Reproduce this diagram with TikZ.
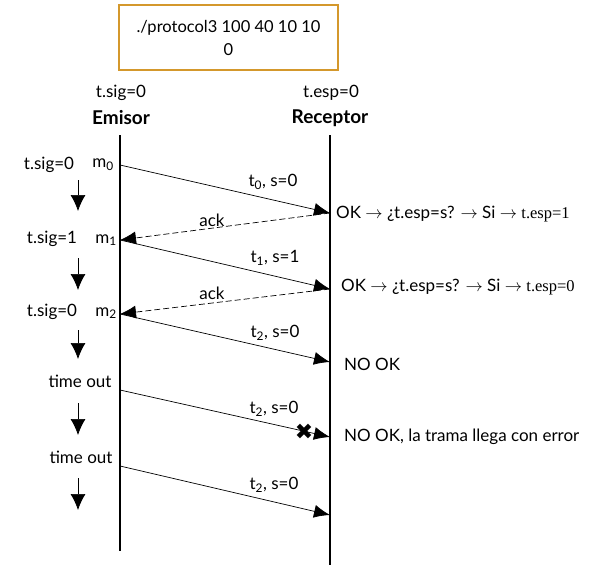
\documentclass[tikz,border=0pt]{standalone}
\usepackage{fontspec}
\setmainfont{Lato}
\newfontfamily\timesfont{Liberation Serif}
\newfontfamily\symbolfont{DejaVu Sans}
\usetikzlibrary{arrows.meta}
\definecolor{boxgold}{RGB}{212,152,44}

\begin{document}
\begin{tikzpicture}[x=1pt, y=-1pt,
    every node/.style={font=\fontsize{17}{19}\selectfont, inner sep=0pt},
    lifeline/.style={line width=1.4pt},
    msg/.style={-{Latex[length=16pt, width=13pt]}, line width=0.7pt},
    ackmsg/.style={msg, dash pattern=on 6pt off 3pt},
    down/.style={-{Latex[length=16pt, width=15pt]}, line width=0.7pt}]
    \useasboundingbox (0,0) rectangle (595,573);

    % Command box
    \node[draw=boxgold, line width=1.2pt, minimum width=219pt, minimum height=65pt,
          align=center, font=\fontsize{16.5}{23}\selectfont] (cmd) at (228.5,37.5)
          {./protocol3 100 40 10 10\\0};

    % Headers
    \node (sig0) at (121,93) {t.sig=0};
    \node (esp0) at (331,93) {t.esp=0};
    \node[font=\fontsize{19}{21}\selectfont\bfseries] (emisor) at (121,118) {Emisor};
    \node[font=\fontsize{19}{21}\selectfont\bfseries] (receptor) at (330,118) {Receptor};

    % Lifelines
    \coordinate (etop) at (120,135);
    \coordinate (ebot) at (120,551);
    \coordinate (rtop) at (330,135);
    \coordinate (rbot) at (330,565);
    \draw[lifeline] (etop) -- (ebot);
    \draw[lifeline] (rtop) -- (rbot);

    % Points on the lifelines
    \coordinate (e0) at (120,165);
    \coordinate (r0) at (330,213);
    \coordinate (e1) at (120,240);
    \coordinate (r1) at (330,289);
    \coordinate (e2) at (120,314);
    \coordinate (r2) at (330,362);
    \coordinate (e3) at (120,390);
    \coordinate (r3) at (330,437);
    \coordinate (e4) at (120,466);
    \coordinate (r4) at (330,515);

    % Frames and acks
    \draw[msg] (e0) -- (r0);
    \draw[ackmsg] (r0) -- (e1);
    \draw[msg] (e1) -- (r1);
    \draw[ackmsg] (r1) -- (e2);
    \draw[msg] (e2) -- (r2);
    \draw[msg] (e3) -- (r3);
    \draw[msg] (e4) -- (r4);
    \node[font=\symbolfont\fontsize{22}{22}\selectfont] (err) at (304,432) {✖};

    % Frame labels
    \node (lt0) at (273,182) {t\textsubscript{0}, s=0};
    \node (lack1) at (212,220) {ack};
    \node (lt1) at (275,258) {t\textsubscript{1}, s=1};
    \node (lack2) at (212,293) {ack};
    \node (lt2) at (275,333) {t\textsubscript{2}, s=0};
    \node (lt3) at (274,409) {t\textsubscript{2}, s=0};
    \node (lt4) at (274,485) {t\textsubscript{2}, s=0};

    % Emisor state
    \node (sig1) at (49,165) {t.sig=0};
    \node (m0) at (103,165) {m\textsubscript{0}};
    \node (sig2) at (52,239) {t.sig=1};
    \node (m1) at (106,240) {m\textsubscript{1}};
    \node (sig3) at (52,312) {t.sig=0};
    \node (m2) at (106,313) {m\textsubscript{2}};
    \node (tout1) at (80,381) {time out};
    \node (tout2) at (81,457) {time out};

    % Time arrows
    \coordinate (d1a) at (78,180); \coordinate (d1b) at (78,211);
    \coordinate (d2a) at (78,258); \coordinate (d2b) at (78,290);
    \coordinate (d3a) at (78,330); \coordinate (d3b) at (78,359);
    \coordinate (d4a) at (78,403); \coordinate (d4b) at (78,435);
    \coordinate (d5a) at (78,478); \coordinate (d5b) at (78,510);
    \draw[down] (d1a) -- (d1b);
    \draw[down] (d2a) -- (d2b);
    \draw[down] (d3a) -- (d3b);
    \draw[down] (d4a) -- (d4b);
    \draw[down] (d5a) -- (d5b);

    % Receptor results
    \node[anchor=west] (ok1) at (336,214)
        {OK $\rightarrow$ ¿t.esp=s? $\rightarrow$ Si $\rightarrow$ {\timesfont\fontsize{16.5}{18}\selectfont t.esp=1}};
    \node[anchor=west] (ok2) at (341,287)
        {OK $\rightarrow$ ¿t.esp=s? $\rightarrow$ Si $\rightarrow$ {\timesfont\fontsize{16.5}{18}\selectfont t.esp=0}};
    \node[anchor=west] (nok1) at (344,364) {NO OK};
    \node[anchor=west] (nok2) at (344,437) {NO OK, la trama llega con error};
\end{tikzpicture}
\end{document}
